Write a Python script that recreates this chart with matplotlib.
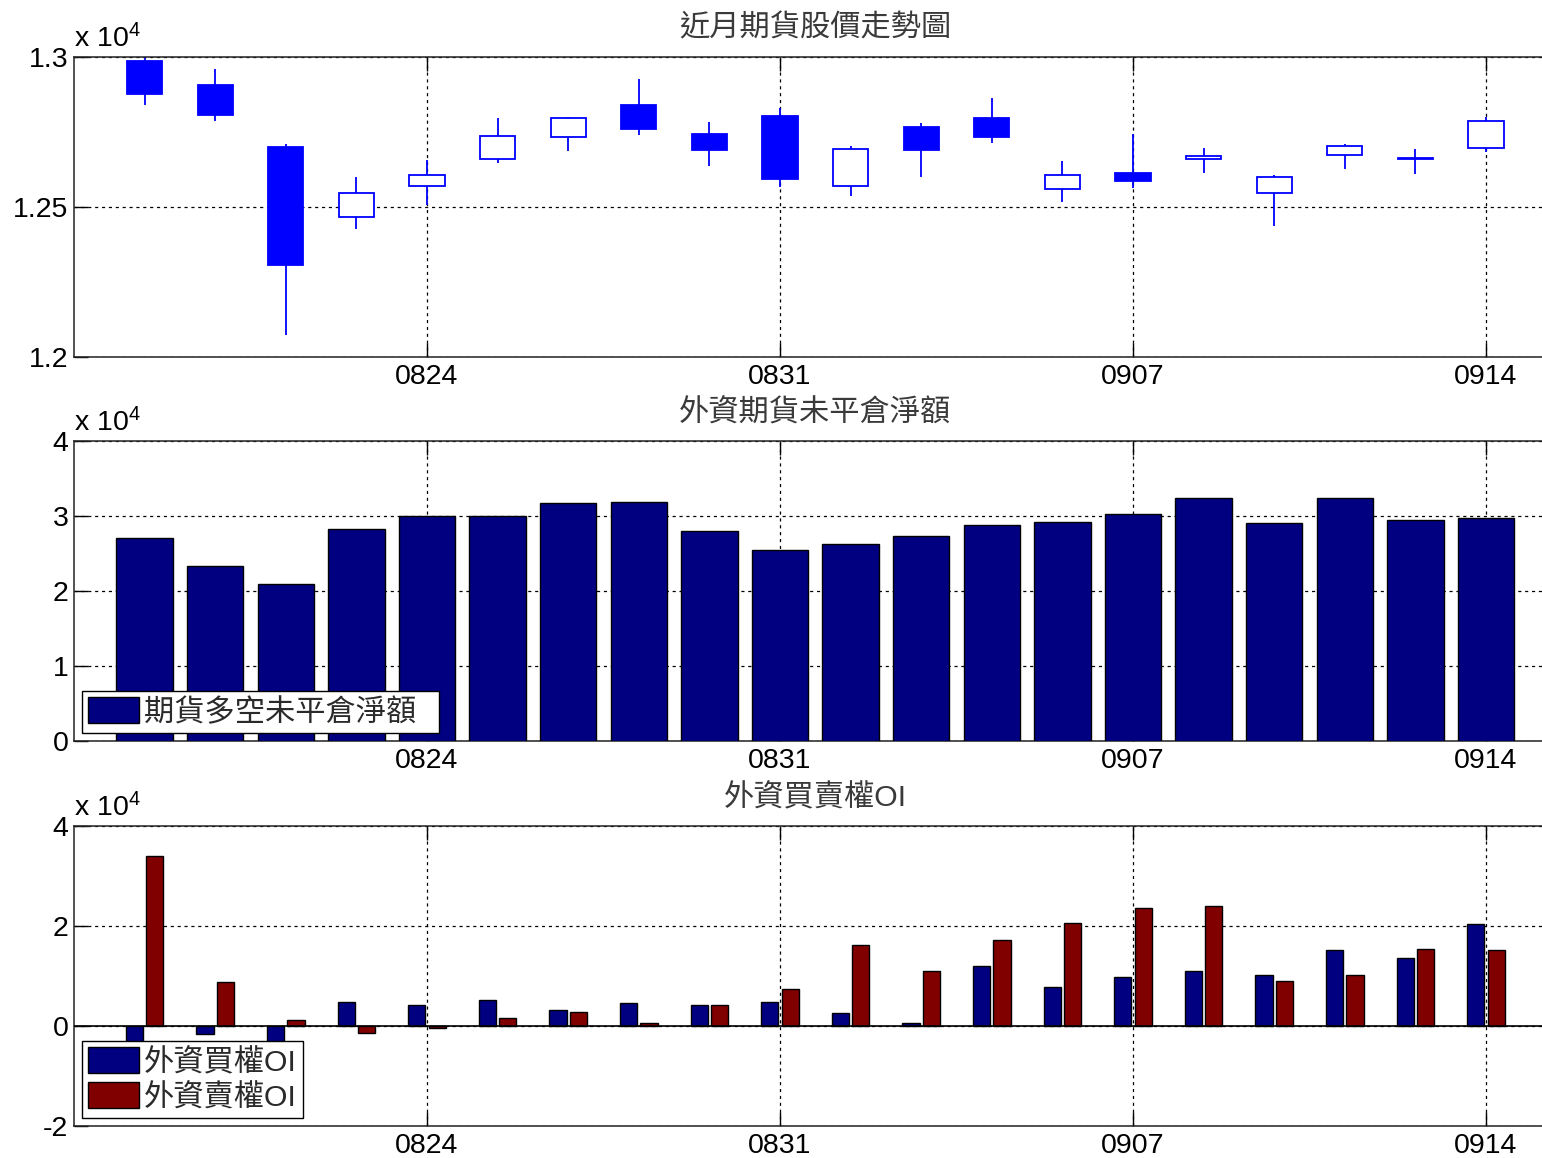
import matplotlib
matplotlib.use('Agg')
import matplotlib.pyplot as plt
from matplotlib.ticker import FuncFormatter, FixedLocator
import numpy as np

plt.rcParams['font.family'] = ['Liberation Sans', 'Noto Sans CJK TC', 'DejaVu Sans']
plt.rcParams['mathtext.fontset'] = 'custom'
plt.rcParams['mathtext.rm'] = 'Liberation Sans'
plt.rcParams['mathtext.it'] = 'Liberation Sans'

# ---------------- data ----------------
dates = ['0818', '0819', '0820', '0821', '0824', '0825', '0826', '0827', '0828', '0831',
         '0901', '0902', '0903', '0904', '0907', '0908', '0909', '0910', '0911', '0914']
tick_dates = ['0824', '0831', '0907', '0914']

k_open = [12986, 12907, 12699, 12467, 12569, 12659, 12733, 12841, 12743, 12804,
          12569, 12768, 12797, 12561, 12612, 12660, 12546, 12672, 12664, 12697]
k_close = [12876, 12806, 12306, 12547, 12608, 12738, 12797, 12761, 12691, 12592,
           12693, 12691, 12733, 12607, 12586, 12669, 12599, 12702, 12660, 12788]
k_high = [13000, 12961, 12711, 12600, 12657, 12798, 12801, 12928, 12784, 12829,
          12703, 12780, 12862, 12653, 12742, 12698, 12608, 12711, 12693, 12801]
k_low = [12839, 12786, 12072, 12428, 12506, 12646, 12687, 12740, 12638, 12567,
         12536, 12601, 12712, 12516, 12564, 12614, 12437, 12626, 12610, 12683]

fut_net = [27067, 23333, 20889, 28222, 29950, 30044, 31689, 31822, 27956, 25467,
           26267, 27333, 28756, 29244, 30222, 32400, 29067, 32400, 29422, 29733]

call_oi = [-4500, -1613, -4000, 4773, 4235, 5244, 3294, 4504, 4235, 4773,
           2555, 605, 11966, 7798, 9748, 10958, 10286, 15193, 13513, 20437]
put_oi = [34017, 8740, 1277, -1345, -336, 1546, 2756, 538, 4168, 7462,
          16269, 11025, 17210, 20639, 23664, 23933, 9008, 10286, 15462, 15193]

title1 = '近月期貨股價走勢圖'
title2 = '外資期貨未平倉淨額'
title3 = '外資買賣權OI'
leg2 = '期貨多空未平倉淨額'
leg3 = ['外資買權OI', '外資賣權OI']

# ---------------- figure ----------------
W, H = 1542, 1158
fig = plt.figure(figsize=(W / 100, H / 100), dpi=100)

left_px, right_px = 74, 1556.6
ax_tops = [57, 441, 826]
ax_h = 300

x = np.arange(1, len(dates) + 1)
tick_pos = [x[dates.index(d)] for d in tick_dates]

TICK_FS = 20.5
CJK_FS = 21.8
BLUE = '#0000FF'
NAVY = '#000080'
DRED = '#800000'
TITLE_COLOR = '#3a3a3a'
LEG_COLOR = '#2a2a2a'

fmt = FuncFormatter(lambda v, p: f'{v / 1e4:g}')


def make_ax(top_px):
    ax = fig.add_axes([left_px / W, 1 - (top_px + ax_h) / H,
                       (right_px - left_px) / W, ax_h / H])
    ax.set_xlim(0, 21)
    ax.xaxis.set_major_locator(FixedLocator(tick_pos))
    ax.set_xticklabels(tick_dates)
    ax.yaxis.set_major_formatter(fmt)
    ax.tick_params(direction='in', length=10, width=1, labelsize=TICK_FS,
                   top=True, right=True)
    ax.tick_params(axis='x', pad=5)
    ax.tick_params(axis='y', pad=4)
    ax.grid(True, color='black', linestyle=(0, (2.5, 3)), linewidth=0.9)
    ax.set_axisbelow(True)
    for s in ax.spines.values():
        s.set_linewidth(1.1)
        s.set_color('#222222')
    ax.annotate('x 10$^4$', xy=(0, 1), xycoords='axes fraction',
                xytext=(0, 3), textcoords='offset points',
                ha='left', va='bottom', fontsize=TICK_FS)
    return ax


def style_legend(leg):
    for t in leg.get_texts():
        t.set_color(LEG_COLOR)
    leg.set_zorder(10)
    leg.get_frame().set_linewidth(1.0)


# ---- panel 1: candlesticks ----
ax1 = make_ax(ax_tops[0])
ax1.vlines(x, k_low, k_high, color=BLUE, linewidth=1.3, zorder=2)
for xi, o, c in zip(x, k_open, k_close):
    fc = BLUE if c < o else 'white'
    ax1.bar(xi, abs(c - o), bottom=min(o, c), width=0.5, facecolor=fc,
            edgecolor=BLUE, linewidth=1.3, zorder=3)
ax1.set_ylim(12000, 13000)
ax1.yaxis.set_major_locator(FixedLocator([12000, 12500, 13000]))
ax1.set_title(title1, fontsize=CJK_FS, color=TITLE_COLOR, pad=15)

# ---- panel 2: futures net OI ----
ax2 = make_ax(ax_tops[1])
ax2.bar(x, fut_net, width=0.8, color=NAVY, edgecolor='black', linewidth=1,
        label=leg2 + '  ', zorder=3)
ax2.set_ylim(0, 40000)
ax2.yaxis.set_major_locator(FixedLocator([0, 10000, 20000, 30000, 40000]))
ax2.set_title(title2, fontsize=CJK_FS, color=TITLE_COLOR, pad=15)
l2 = ax2.legend(loc='lower left', fontsize=CJK_FS, frameon=True, fancybox=False,
                edgecolor='black', framealpha=1, borderpad=0.2, borderaxespad=0.27,
                handlelength=1.68, handleheight=0.94, handletextpad=0.15)
style_legend(l2)

# ---- panel 3: options OI ----
ax3 = make_ax(ax_tops[2])
off = 0.145
bw = 0.245
ax3.bar(x - off, call_oi, width=bw, color=NAVY, edgecolor='black', linewidth=1,
        label=leg3[0], zorder=3)
ax3.bar(x + off, put_oi, width=bw, color=DRED, edgecolor='black', linewidth=1,
        label=leg3[1], zorder=3)
ax3.axhline(0, color='black', linewidth=1.2, zorder=4)
ax3.set_ylim(-20000, 40000)
ax3.yaxis.set_major_locator(FixedLocator([-20000, 0, 20000, 40000]))
ax3.set_title(title3, fontsize=CJK_FS, color=TITLE_COLOR, pad=15)
l3 = ax3.legend(loc='lower left', fontsize=CJK_FS, frameon=True, fancybox=False,
                edgecolor='black', framealpha=1, borderpad=0.2, borderaxespad=0.27,
                handlelength=1.68, handleheight=0.94, handletextpad=0.15,
                labelspacing=0.2)
style_legend(l3)

fig.savefig('out.png', dpi=100)
